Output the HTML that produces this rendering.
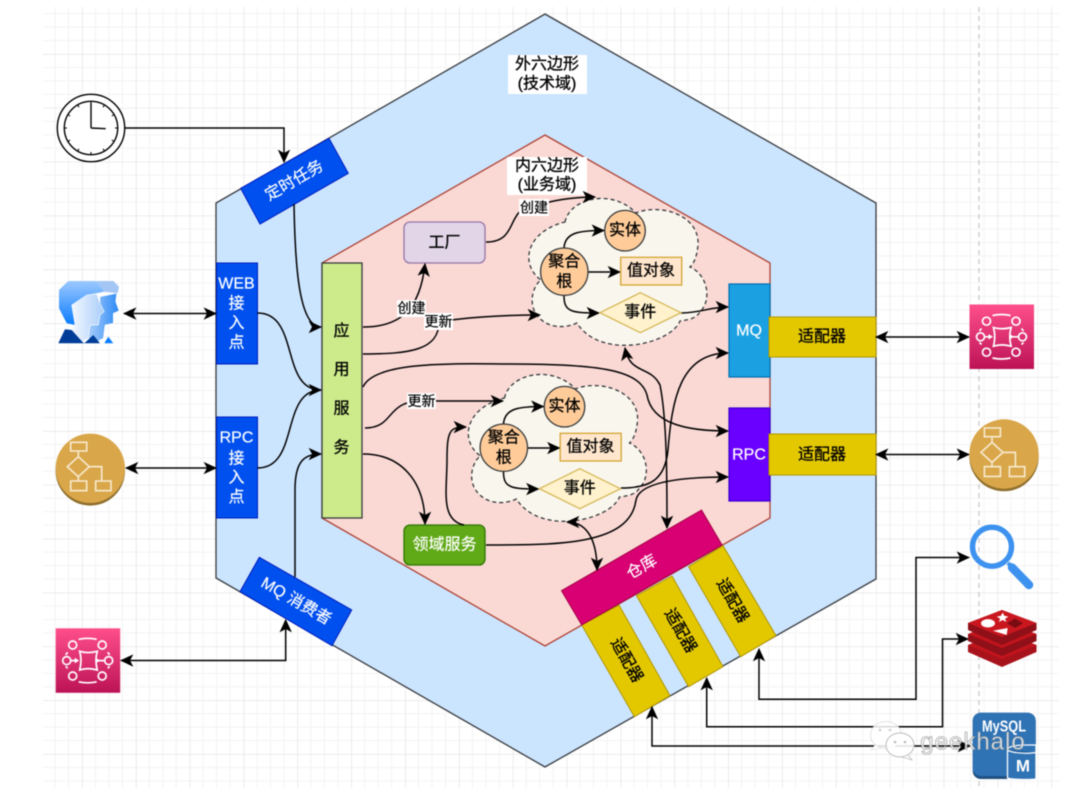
<!DOCTYPE html>
<html lang="zh">
<head>
<meta charset="utf-8">
<title>六边形架构</title>
<style>
html,body{margin:0;padding:0;background:#fff;width:1084px;height:811px;overflow:hidden}
svg{display:block;filter:blur(.5px)}
text{font-family:"Liberation Sans","Noto Sans CJK SC",sans-serif;text-anchor:middle;dominant-baseline:central}
.c{fill:none;stroke:#000;stroke-width:1.5}
.e{marker-end:url(#a)}
.b{marker-start:url(#a);marker-end:url(#a)}
.t16{font-size:16px;fill:#000;stroke:#000;stroke-width:.3}
.w16{font-size:16px;fill:#fff;stroke:#fff;stroke-width:.2}
.t14{font-size:14px;fill:#000;stroke:#000;stroke-width:.2}
.ic{fill:none;stroke:#fff;stroke-width:1.7}
.fl{fill:none;stroke:#f8ead0;stroke-width:1.6}
</style>
</head>
<body>
<svg width="1084" height="811" viewBox="0 0 1084 811" xmlns="http://www.w3.org/2000/svg">
<defs>
<marker id="a" viewBox="0 0 12 12" refX="11" refY="6" markerWidth="13.5" markerHeight="13.5" markerUnits="userSpaceOnUse" orient="auto-start-reverse">
<path d="M0,.5 L12,6 L0,11.5 L3,6 Z" fill="#000"/>
</marker>
<pattern id="grid" patternUnits="userSpaceOnUse" x="28.15" y=".15" width="53.85" height="53.85">
<path d="M13.46,0V53.85M26.92,0V53.85M40.39,0V53.85M0,13.46H53.85M0,26.92H53.85M0,40.39H53.85" stroke="#f3f3f3" stroke-width="1" fill="none"/>
<path d="M0,0V53.85M0,0H53.85" stroke="#e1e1e1" stroke-width="1.3" fill="none"/>
</pattern>
<linearGradient id="q" x1="0" y1="0" x2="0" y2="1"><stop offset="0" stop-color="#ff4f8b"/><stop offset="1" stop-color="#bc1356"/></linearGradient>
<linearGradient id="u1" x1="0" y1="0" x2="0" y2="1"><stop offset="0" stop-color="#9cc9ff"/><stop offset="1" stop-color="#0a7cff"/></linearGradient>
<linearGradient id="u2" x1="0" y1="0" x2="1" y2="0"><stop offset="0" stop-color="#f2f7ff"/><stop offset="1" stop-color="#a9cdfa"/></linearGradient>
<linearGradient id="u3" x1="0" y1="0" x2="1" y2="0"><stop offset="0" stop-color="#a8cdfa"/><stop offset="1" stop-color="#2b89f5"/></linearGradient>
</defs>

<rect width="1084" height="811" fill="#fff"/>
<rect x="43" y="7" width="1016" height="781" fill="url(#grid)"/>
<line x1="979" y1="7" x2="979" y2="788" stroke="#c9c9c9" stroke-width="1.3" stroke-dasharray="5 4"/>

<!-- hexagons -->
<polygon points="545,14 876,203 876,579 545,767 216,578 216,203" fill="#cce5ff" stroke="#36393d" stroke-width="1.3"/>
<polygon points="545,135 770,263 770,518 545,646 322,518 322,263" fill="#fad9d5" stroke="#ae4132" stroke-width="1.3"/>

<rect x="508" y="55" width="79" height="39" fill="#fff"/>
<text x="547" y="64.5" class="t16">外六边形</text>
<text x="547" y="84" class="t16">(技术域)</text>
<rect x="507" y="157" width="80" height="38" fill="#fff"/>
<text x="547" y="166" class="t16">内六边形</text>
<text x="547" y="185" class="t16">(业务域)</text>

<!-- clouds -->
<path d="M565,222 C570,198 612,188 636,213 C660,203 700,215 698,245 C697,255 695,262 690,267 C708,275 712,300 700,312 C695,320 685,320 680,321 C670,345 600,360 577,323 C550,335 525,315 534,290 C536,285 538,282 541,280 C520,265 525,232 565,222 Z" fill="#f9f7ed" stroke="#36393d" stroke-width="1.3" stroke-dasharray="4 3"/>
<g transform="translate(-60.5,176)">
<path d="M565,222 C570,198 612,188 636,213 C660,203 700,215 698,245 C697,255 695,262 690,267 C708,275 712,300 700,312 C695,320 685,320 680,321 C670,345 600,360 577,323 C550,335 525,315 534,290 C536,285 538,282 541,280 C520,265 525,232 565,222 Z" fill="#f9f7ed" stroke="#36393d" stroke-width="1.3" stroke-dasharray="4 3"/>
</g>

<!-- boxes -->
<rect x="322" y="263" width="40" height="255" fill="#cdeb8b" stroke="#36393d" stroke-width="1.3"/>
<text x="341.5" y="331.5" class="t16">应</text>
<text x="341.5" y="370" class="t16">用</text>
<text x="341.5" y="409" class="t16">服</text>
<text x="341.5" y="448" class="t16">务</text>

<rect x="404" y="222" width="81" height="41" rx="6" fill="#e1d5e7" stroke="#9673a6" stroke-width="1.3"/>
<text x="444.5" y="243" class="t16">工厂</text>
<rect x="404" y="525" width="81" height="40" rx="6" fill="#60a917" stroke="#2d7600" stroke-width="1.3"/>
<text x="444.5" y="545" class="w16">领域服务</text>

<rect x="729" y="284" width="41" height="93" fill="#1ba1e2" stroke="#006eaf" stroke-width="1.2"/>
<text x="749" y="331" class="w16">MQ</text>
<rect x="729" y="408" width="41" height="93" fill="#6a00ff" stroke="#3700cc" stroke-width="1.2"/>
<text x="749" y="455" class="w16">RPC</text>

<rect x="769" y="317" width="107" height="40" fill="#e3c800" stroke="#b09500" stroke-width="1"/>
<text x="822" y="337" class="t16">适配器</text>
<rect x="769" y="434" width="107" height="41" fill="#e3c800" stroke="#b09500" stroke-width="1"/>
<text x="822" y="455" class="t16">适配器</text>

<rect x="216.5" y="263" width="41" height="101" fill="#0050ef" stroke="#001dbc" stroke-width="1"/>
<text x="236.5" y="284" class="w16">WEB</text>
<text x="236.5" y="304" class="w16">接</text>
<text x="236.5" y="323.5" class="w16">入</text>
<text x="236.5" y="343" class="w16">点</text>
<rect x="216.5" y="417" width="41" height="101" fill="#0050ef" stroke="#001dbc" stroke-width="1"/>
<text x="236.5" y="438" class="w16">RPC</text>
<text x="236.5" y="459" class="w16">接</text>
<text x="236.5" y="478" class="w16">入</text>
<text x="236.5" y="497.5" class="w16">点</text>

<polygon points="240.7,188.3 329,138.3 348.3,173.3 260,224" fill="#0050ef" stroke="#001dbc" stroke-width="1"/>
<text x="294.5" y="181" class="w16" transform="rotate(-30 294.5 181)">定时任务</text>
<polygon points="259.3,557.3 351.7,610 332,645.7 240,591.7" fill="#0050ef" stroke="#001dbc" stroke-width="1"/>
<text x="296" y="601.5" class="w16" transform="rotate(30 296 601.5)">MQ 消费者</text>

<!-- adapters and warehouse -->
<polygon points="581.7,625 619,605 670,695.7 634.4,716.7" fill="#e3c800" stroke="#b09500" stroke-width="1"/>
<text x="626.3" y="660.6" class="t16" transform="rotate(60 626.3 660.6)">适配器</text>
<polygon points="636.5,595.7 672,576 723,666.7 688.6,686.7" fill="#e3c800" stroke="#b09500" stroke-width="1"/>
<text x="680" y="631" class="t16" transform="rotate(60 680 631)">适配器</text>
<polygon points="688.6,566.7 723,545.7 776,635.7 740.7,656.7" fill="#e3c800" stroke="#b09500" stroke-width="1"/>
<text x="732" y="601" class="t16" transform="rotate(60 732 601)">适配器</text>
<polygon points="701.5,510 722,545 581.7,625 561.5,590.7" fill="#d80073" stroke="#a50040" stroke-width="1"/>
<text x="642" y="567.5" class="w16" transform="rotate(-30 642 567.5)">仓库</text>

<!-- connectors -->
<path class="c e" d="M125,128 H284 V162"/>
<path class="c e" d="M294,204 C295,260 298,327 321,327"/>
<path class="c b" d="M124,313.5 H216"/>
<path class="c e" d="M257.5,313 C300,313 280,390 321,390"/>
<path class="c b" d="M126,468 H216"/>
<path class="c" d="M257.5,468 C300,468 280,390 321,390"/>
<path class="c e" d="M295,577 V490 C295,460 305,454 321,454"/>
<path class="c b" d="M121,660.5 H285.7 V620"/>

<path class="c e" d="M363,327 C400,327 420,310 425,264"/>
<path class="c" d="M363,354 C410,354 439,350 439,322"/>
<path class="c e" d="M439,322 C460,318 500,315 540,315"/>
<path class="c" d="M486,242 C520,242 505,207 534,207"/>
<path class="c e" d="M534,207 C550,200 575,197 595,197"/>
<path class="c e" d="M363,387 C375,360 460,364 510,364 C600,364 640,370 647,395 C652,425 690,431 728,431"/>
<path class="c" d="M365,428 C395,428 385,401 422,401"/>
<path class="c e" d="M422,401 C440,401 480,401 503,401"/>
<path class="c e" d="M363,454 C400,454 425,480 425,524"/>
<path class="c e" d="M464,525 C440,520 447,490 447,460 C447,430 450,427 466,427"/>
<path class="c e" d="M486,545 C560,545 630,545 636,500 C640,480 690,477 728,477"/>
<path class="c e" d="M621,488 C650,488 665,480 668,450 C672,400 680,353 728,353"/>
<path class="c e" d="M681,313 C700,313 710,307 728,307"/>
<path class="c b" d="M625,348 C630,375 650,365 660,385 C667,420 667,480 667,528"/>
<path class="c b" d="M567,522 C590,522 597,545 597,570"/>

<path class="c b" d="M759,649 V699.3 H916 V557.5 H969"/>
<path class="c b" d="M706.7,678 V726.7 H942.5 V639 H968"/>
<path class="c b" d="M652,707 V746 H970"/>
<path class="c b" d="M876,337 H969"/>
<path class="c b" d="M876,454.5 H969"/>

<!-- inner cloud items -->
<g>
<path class="c e" d="M564,248 C565,232 580,230.5 604,230.5"/>
<path class="c e" d="M588,272 H620"/>
<path class="c e" d="M564,296 C564,312 572,313 599,313"/>
<circle cx="625" cy="230.7" r="20.3" fill="#ffcc99" stroke="#36393d" stroke-width="1.3"/>
<text x="625" y="230.7" class="t16">实体</text>
<circle cx="564.3" cy="271.7" r="23.7" fill="#ffcc99" stroke="#36393d" stroke-width="1.3"/>
<text x="564.3" y="262" class="t16">聚合</text>
<text x="564.3" y="282" class="t16">根</text>
<rect x="620.7" y="257.3" width="61" height="27.7" fill="#ffe6cc" stroke="#d6a83e" stroke-width="1.4"/>
<text x="651" y="271" class="t16">值对象</text>
<polygon points="600,312.7 640.3,292.7 681,312.7 640.3,332.7" fill="#fff2cc" stroke="#d6b656" stroke-width="1.3"/>
<text x="640.3" y="312.5" class="t16">事件</text>
</g>
<g transform="translate(-60.5,176)">
<path class="c e" d="M564,248 C565,232 580,230.5 604,230.5"/>
<path class="c e" d="M588,272 H620"/>
<path class="c e" d="M564,296 C564,312 572,313 599,313"/>
<circle cx="625" cy="230.7" r="20.3" fill="#ffcc99" stroke="#36393d" stroke-width="1.3"/>
<text x="625" y="230.7" class="t16">实体</text>
<circle cx="564.3" cy="271.7" r="23.7" fill="#ffcc99" stroke="#36393d" stroke-width="1.3"/>
<text x="564.3" y="262" class="t16">聚合</text>
<text x="564.3" y="282" class="t16">根</text>
<rect x="620.7" y="257.3" width="61" height="27.7" fill="#ffe6cc" stroke="#d6a83e" stroke-width="1.4"/>
<text x="651" y="271" class="t16">值对象</text>
<polygon points="600,312.7 640.3,292.7 681,312.7 640.3,332.7" fill="#fff2cc" stroke="#d6b656" stroke-width="1.3"/>
<text x="640.3" y="312.5" class="t16">事件</text>
</g>

<!-- edge labels -->
<rect x="397" y="300" width="29" height="17" fill="#fff"/><text x="411.5" y="308" class="t14">创建</text>
<rect x="424" y="313" width="29" height="17" fill="#fff"/><text x="438.5" y="321.5" class="t14">更新</text>
<rect x="519" y="199" width="30" height="17" fill="#fff"/><text x="534" y="207.5" class="t14">创建</text>
<rect x="407" y="393" width="29" height="16" fill="#fff"/><text x="421.5" y="401" class="t14">更新</text>

<!-- clock -->
<g fill="none" stroke="#000">
<circle cx="91" cy="128" r="33.7" fill="#fff" stroke-width="1.4"/>
<circle cx="91" cy="128" r="26.7" stroke-width="1.4"/>
<path d="M91,128 V103 M91,128 L105.7,128.7" stroke-width="1.4"/>
<g stroke-width="1">
<path d="M91,101.3V104M91,154.7V152M64.3,128H67M117.7,128H115"/>
<path d="M104.4,104.9L103,107.2M77.7,151.1L79,148.8M114.1,114.7L111.8,116M67.9,141.4L70.2,140"/>
<path d="M77.7,104.9L79,107.2M104.4,151.1L103,148.8M67.9,114.7L70.2,116M114.1,141.4L111.8,140"/>
</g>
</g>

<!-- users -->
<polygon points="59,290 68.3,281 96.7,281 104.3,291.7 86.7,295 71.7,305 75,325 66.7,323.3 59,308.3" fill="url(#u1)"/>
<polygon points="96.7,281 113.3,281 119,286.7 117.7,293.3 104.3,291.7" fill="#a4c6f5"/>
<polygon points="100,296.7 116.7,293.3 115.7,301.7 119,310.7 113.3,313.3 113.3,323.3 105,325 103.3,338.3 96.7,341.7 88.3,338.3 90,325 98.3,325 100,315 104.3,311.7 100,303.3" fill="url(#u3)" stroke="#fff" stroke-width=".5"/>
<polygon points="71.7,305 86.7,295 96.7,294 100,303.3 104.3,311.7 100,315 98.3,325 90,325 88.3,338.3 81.7,341.7 71.7,330 75,325" fill="url(#u2)" stroke="#fff" stroke-width=".5"/>
<polygon points="58.3,343.3 65,329.3 71.7,330 82.3,341.7 84.3,343.3" fill="#003d99"/>
<polygon points="84.3,343.3 93.3,335 100,343.3" fill="#003d99"/>
<polygon points="104.3,343.3 108.3,336.7 113.3,343.3" fill="#0a7cff"/>

<!-- flow icons -->
<g transform="translate(90.3,468.3)">
<circle cx="0" cy="2.6" r="34.7" fill="#8f6e2c"/>
<circle cx="0" cy="0" r="34.7" fill="#d9a74a"/>
<path class="fl" d="M-19.6,-26H-3.6V-17.3H-19.6ZM-12,-11.6L-1,-1.6L-12,8.4L-23,-1.6ZM-12,-17.3V-11.6M-1,-1.6H11.4V12.7M-12,8.4V12.7M-19.6,12.7H-3.6V22.4H-19.6ZM5.4,12.7H20.7V22.4H5.4Z"/>
</g>
<g transform="translate(1004,454)">
<circle cx="0" cy="2.6" r="34.7" fill="#8f6e2c"/>
<circle cx="0" cy="0" r="34.7" fill="#d9a74a"/>
<path class="fl" d="M-19.6,-26H-3.6V-17.3H-19.6ZM-12,-11.6L-1,-1.6L-12,8.4L-23,-1.6ZM-12,-17.3V-11.6M-1,-1.6H11.4V12.7M-12,8.4V12.7M-19.6,12.7H-3.6V22.4H-19.6ZM5.4,12.7H20.7V22.4H5.4Z"/>
</g>

<!-- queue icons -->
<g transform="translate(55.7,628.3)">
<rect width="64.5" height="64.5" fill="url(#q)"/>
<g class="ic"><circle cx="17" cy="16.7" r="4"/><circle cx="46.5" cy="16.7" r="4"/><circle cx="11" cy="32.3" r="4"/><circle cx="53" cy="32.3" r="4"/><circle cx="17" cy="47.7" r="4"/><circle cx="46.5" cy="47.7" r="4"/>
<path d="M24,23 Q32,25.5 41.6,23 Q39,32 41.6,41.7 Q32,39 24,41.7 Q26.5,32 24,23Z"/>
<path d="M23,11 Q32,9 41,11M23,53.5 Q32,55.5 41,53.5M12,24 L10,26.5M52,24 L54,26.5M12,40 L10,38M52,40 L54,38M15,32.3H22M43,32.3H49"/></g>
<path d="M19,29.5L23.5,32.3L19,35ZM40,29.5L44.5,32.3L40,35Z" fill="#fff"/>
</g>
<g transform="translate(969.5,304.5)">
<rect width="64.5" height="64.5" fill="url(#q)"/>
<g class="ic"><circle cx="17" cy="16.7" r="4"/><circle cx="46.5" cy="16.7" r="4"/><circle cx="11" cy="32.3" r="4"/><circle cx="53" cy="32.3" r="4"/><circle cx="17" cy="47.7" r="4"/><circle cx="46.5" cy="47.7" r="4"/>
<path d="M24,23 Q32,25.5 41.6,23 Q39,32 41.6,41.7 Q32,39 24,41.7 Q26.5,32 24,23Z"/>
<path d="M23,11 Q32,9 41,11M23,53.5 Q32,55.5 41,53.5M12,24 L10,26.5M52,24 L54,26.5M12,40 L10,38M52,40 L54,38M15,32.3H22M43,32.3H49"/></g>
<path d="M19,29.5L23.5,32.3L19,35ZM40,29.5L44.5,32.3L40,35Z" fill="#fff"/>
</g>

<!-- search -->
<circle cx="992" cy="546.7" r="19.5" fill="none" stroke="#3d92ef" stroke-width="5.5"/>
<path d="M1008,563 L1013,568" stroke="#3d92ef" stroke-width="4" fill="none"/>
<path d="M1012,567.5 L1029,585" stroke="#3d92ef" stroke-width="8.5" stroke-linecap="round" fill="none"/>

<!-- redis -->
<g>
<path d="M968,645 V652 L1002,667 L1036.5,652 V645 L1002,632Z" fill="#a8121b"/>
<path d="M968,645 L1002,659 L1036.5,645 L1002,632Z" fill="#c2141d"/>
<path d="M968,634 V641 L1002,656 L1036.5,641 V634 L1002,621Z" fill="#8f1018"/>
<path d="M968,634 L1002,648 L1036.5,634 L1002,621Z" fill="#c2141d"/>
<path d="M968,623 V630 L1002,645 L1036.5,630 V623 L1002,610Z" fill="#8f1018"/>
<path d="M968,623 L1002,637 L1036.5,623 L1002,610Z" fill="#c9161f"/>
<ellipse cx="988" cy="623.3" rx="7" ry="4.2" fill="#fff"/>
<path d="M1002.7,612.5 L1004.3,615.8 L1008.5,616.6 L1005,618.8 L1006.5,622 L1002.7,620 L998.8,622 L1000.2,618.8 L996.8,616.6 L1001,615.8Z" fill="#fff"/>
<polygon points="993,630.7 1007.7,628 1006.7,635" fill="#fff"/>
<polygon points="1015,618.5 1023,623.3 1015,628 1007,623.3" fill="#7a0c12"/>
</g>

<!-- mysql -->
<rect x="972.7" y="712.7" width="63" height="66.3" rx="8" fill="#205081"/>
<path d="M972.7,720.7 a8,8 0 0 1 8,-8 H1027.7 a8,8 0 0 1 8,8 V768 a8,8 0 0 1 -8,8 H980.7 a8,8 0 0 1 -8,-8Z" fill="#2f73b5"/>
<text x="1004" y="727" font-size="16" font-weight="700" fill="#fff" textLength="44" lengthAdjust="spacingAndGlyphs">MySQL</text>
<path d="M1036,745 H1025 C1014,745 1007.5,747 1007.5,750 V778 C1011,779.5 1028,780 1036,779 Z" fill="#2f73b5" stroke="#fff" stroke-width="1.3"/>
<path d="M1007.5,750 C1011,753 1028,754 1036,752.5" fill="#1b5a96" stroke="#fff" stroke-width="1.2"/>
<text x="1023" y="766" font-size="17" font-weight="700" fill="#fff">M</text>

<!-- watermark -->
<g>
<ellipse cx="886" cy="735" rx="15.5" ry="13.5" fill="#fff" fill-opacity=".85" stroke="#ddd" stroke-width=".8"/>
<path d="M875,745 L871,750 L881,748Z" fill="#fff" stroke="#ddd" stroke-width=".6"/>
<ellipse cx="900" cy="745" rx="14" ry="12" fill="#fff" fill-opacity=".88" stroke="#bdbdbd" stroke-width="1"/>
<path d="M908,755 L912,760 L902,757Z" fill="#fff" stroke="#bdbdbd" stroke-width=".8"/>
<circle cx="880" cy="730" r="1.3" fill="#ccc"/><circle cx="890" cy="730" r="1.3" fill="#ccc"/>
<circle cx="895" cy="742" r="1.3" fill="#bbb"/><circle cx="905" cy="742" r="1.3" fill="#bbb"/>
<text x="973" y="742" font-size="24" letter-spacing="1" fill="#fff" fill-opacity=".8" stroke="#8c8c8c" stroke-width=".6">geekhalo</text>
</g>
</svg>
</body>
</html>
